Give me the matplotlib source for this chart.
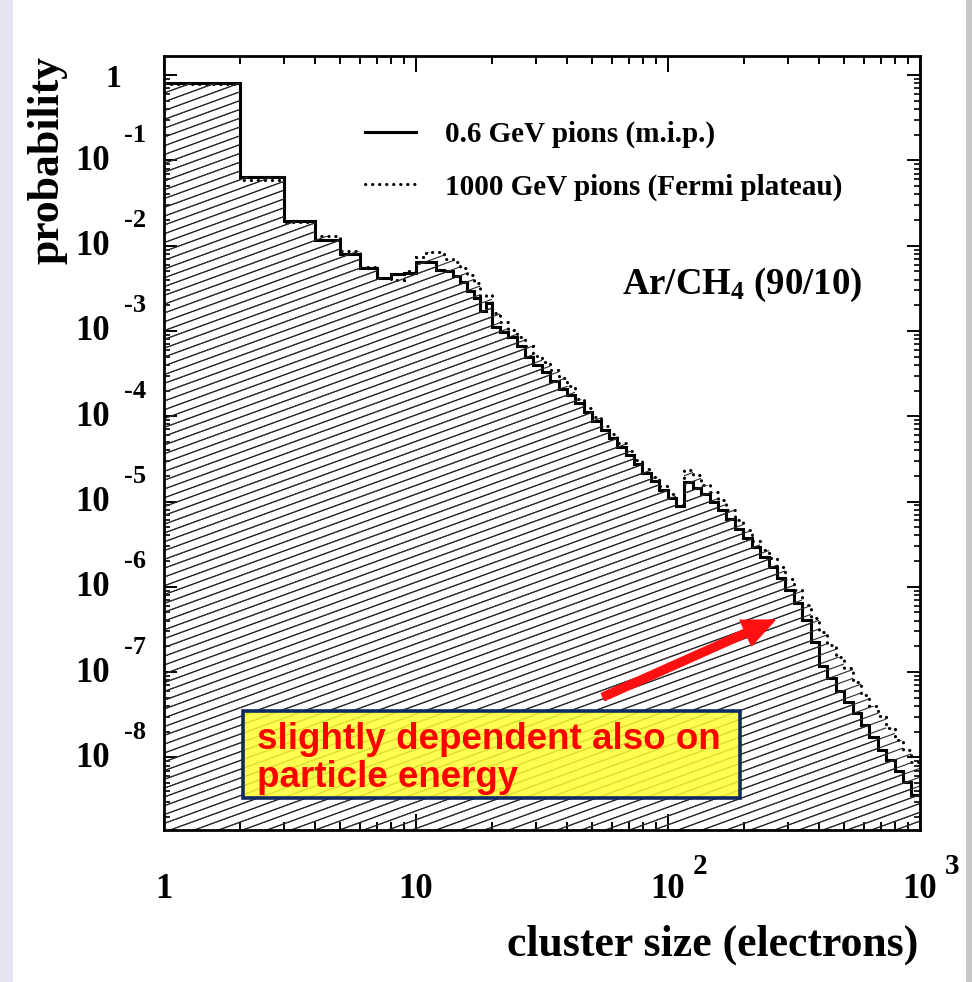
import numpy as np
import matplotlib
matplotlib.use("Agg")
import matplotlib.pyplot as plt
from matplotlib.ticker import LogLocator, NullFormatter
from matplotlib.collections import LineCollection
from matplotlib.patches import Rectangle, FancyArrow
from matplotlib.lines import Line2D
import matplotlib.transforms as mtrans

# ---------------- data ----------------
bin_edges = [1, 2, 3, 4, 5, 6, 7, 8, 9, 10, 11, 12, 13, 14, 15, 16, 17, 18, 19, 20,
             21.54, 23.26, 25.12, 27.12, 29.29, 31.62, 34.15, 36.88, 39.81, 42.99,
             46.42, 50.12, 54.12, 58.43, 63.10, 68.13, 73.56, 79.43, 85.77, 92.61,
             100.0, 107.98, 116.59, 125.89, 135.94, 146.78, 158.49, 171.13, 184.79, 199.53,
             215.44, 232.63, 251.19, 271.23, 292.86, 316.23, 341.45, 368.70, 398.11, 429.87,
             464.16, 501.19, 541.17, 584.34, 630.96, 681.29, 735.64, 794.33, 857.70, 926.12,
             1000.0]

prob_mip = [0.812, 0.0632, 0.0194, 0.01163, 0.00791, 0.00542, 0.00414, 0.00465, 0.00477,
            0.00648, 0.00640, 0.00518, 0.00510, 0.00440, 0.00374, 0.00294, 0.00243, 0.00171,
            0.00212, 0.00111,
            9.71e-4, 8.48e-4, 6.65e-4, 4.94e-4, 3.98e-4, 3.30e-4, 2.59e-4, 2.08e-4, 1.77e-4, 1.43e-4,
            1.12e-4, 8.78e-5, 6.89e-5, 5.55e-5, 4.35e-5, 3.51e-5, 2.75e-5, 2.16e-5, 1.74e-5, 1.36e-5,
            1.10e-5, 8.86e-6, 1.69e-5, 1.44e-5, 1.22e-5, 9.86e-6, 7.95e-6, 6.23e-6, 4.76e-6, 3.73e-6,
            2.93e-6, 2.24e-6, 1.71e-6, 1.27e-6, 9.17e-7, 6.46e-7, 4.08e-7, 2.25e-7, 1.18e-7, 8.53e-8,
            6.00e-8, 4.46e-8, 3.31e-8, 2.40e-8, 1.73e-8, 1.22e-8, 9.32e-9, 6.93e-9, 5.15e-9, 3.62e-9]

prob_fermi = [0.784, 0.0588, 0.0189, 0.01296, 0.00864, 0.00561, 0.00417, 0.00395, 0.00504,
              0.00735, 0.00841, 0.00841, 0.00697, 0.00642, 0.00546, 0.00452, 0.00364, 0.00256,
              0.00264, 0.00162,
              1.27e-3, 1.02e-3, 8.48e-4, 6.65e-4, 5.08e-4, 4.32e-4, 3.48e-4, 2.80e-4, 2.26e-4, 1.59e-4,
              1.25e-4, 9.78e-5, 7.68e-5, 6.18e-5, 4.85e-5, 3.91e-5, 3.07e-5, 2.40e-5, 1.94e-5, 1.52e-5,
              1.22e-5, 9.10e-6, 2.34e-5, 2.04e-5, 1.56e-5, 1.29e-5, 1.04e-5, 7.95e-6, 6.07e-6, 4.63e-6,
              3.44e-6, 2.70e-6, 2.18e-6, 1.71e-6, 1.23e-6, 9.17e-7, 6.12e-7, 4.31e-7, 2.95e-7, 2.08e-7,
              1.50e-7, 1.12e-7, 7.66e-8, 5.39e-8, 4.00e-8, 3.06e-8, 2.21e-8, 1.60e-8, 1.22e-8, 8.83e-9]

series_labels = ["0.6 GeV pions (m.i.p.)", "1000 GeV pions (Fermi plateau)"]
x_tick_values = [1, 10, 100, 1000]
x_tick_base = ["1", "10", "10", "10"]
x_tick_exp = ["", "", "2", "3"]
y_tick_exponents = [0, -1, -2, -3, -4, -5, -6, -7, -8]
x_title = "cluster size (electrons)"
y_title = "probability"
gas_label = "Ar/CH$_{4}$ (90/10)"
note_lines = ["slightly dependent also on", "particle energy"]

# ---------------- figure ----------------
plt.rcParams["mathtext.fontset"] = "custom"
plt.rcParams["mathtext.rm"] = "Liberation Serif:bold"
plt.rcParams["mathtext.default"] = "rm"

W, H, DPI = 972, 982, 100
fig = plt.figure(figsize=(W / DPI, H / DPI), dpi=DPI, facecolor="white")

def fx(x):
    return x / W

def fy(y):
    return 1 - y / H

# side decorations of the slide
fig.add_artist(Rectangle((0, 0), fx(13), 1, transform=fig.transFigure,
                         facecolor="#e6e6f3", edgecolor="none", zorder=-5))
fig.add_artist(Rectangle((fx(966), 0), fx(6), 1, transform=fig.transFigure,
                         facecolor="#c8c8c8", edgecolor="none", zorder=-5))

L, R, T, B = 163.7, 919.7, 56.0, 830.0
ax = fig.add_axes([fx(L), fy(B), fx(R) - fx(L), fy(T) - fy(B)])
ax.set_xscale("log")
ax.set_yscale("log")
ax.set_xlim(1, 1000)
ax.set_ylim(1.41e-9, 1.67)
ax.set_facecolor("none")

serif = "Liberation Serif"

# fill regions (invisible) used to clip the hatching
patch_fermi = ax.stairs(prob_fermi, bin_edges, baseline=1e-14, fill=True,
                        facecolor="none", edgecolor="none")
patch_mip = ax.stairs(prob_mip, bin_edges, baseline=1e-14, fill=True,
                      facecolor="none", edgecolor="none")

# 20-degree hatching drawn in axes coordinates
Wa, Ha = R - L, B - T
slope = np.tan(np.radians(20.0)) * Wa / Ha
spacing = 8.8 / Ha
cs = np.arange(-slope - spacing, 1 + spacing, spacing)
segs = [[(0, c), (1, c + slope)] for c in cs]
for p in (patch_mip, patch_fermi):
    lc = LineCollection(segs, colors="#2a2a2a", linewidths=0.8, transform=ax.transAxes)
    lc.set_clip_path(p)
    lc.set_clip_box(ax.bbox)
    ax.add_collection(lc, autolim=False)

dotted = ax.stairs(prob_fermi, bin_edges, baseline=None, color="black", linewidth=2.2,
                   linestyle=(0, (0.1, 2.2)), label=series_labels[1])
dotted.set_capstyle("round")
ax.stairs(prob_mip, bin_edges, baseline=None, color="black", linewidth=2.2,
          label=series_labels[0])

# axes styling
for s in ax.spines.values():
    s.set_linewidth(2.0)
ax.xaxis.set_major_locator(LogLocator(base=10, numticks=20))
ax.xaxis.set_minor_locator(LogLocator(base=10, subs=np.arange(2, 10), numticks=100))
ax.yaxis.set_major_locator(LogLocator(base=10, numticks=30))
ax.yaxis.set_minor_locator(LogLocator(base=10, subs=np.arange(2, 10), numticks=300))
for axis in (ax.xaxis, ax.yaxis):
    axis.set_major_formatter(NullFormatter())
    axis.set_minor_formatter(NullFormatter())
ax.tick_params(axis="x", which="major", direction="in", length=11.5, width=1.4, top=True, bottom=True)
ax.tick_params(axis="x", which="minor", direction="in", length=5.8, width=1.4, top=True, bottom=True)
ax.tick_params(axis="y", which="major", direction="in", length=9.5, width=1.4, left=True, right=True)
ax.tick_params(axis="y", which="minor", direction="in", length=4.5, width=1.2, left=True, right=True)

# tick labels (ROOT style with detached exponents)
ytr = mtrans.blended_transform_factory(fig.transFigure, ax.transData)
for e in y_tick_exponents:
    v = 10.0 ** e
    if e == 0:
        ax.text(fx(113), v, "1", transform=mtrans.offset_copy(ytr, fig=fig, y=-5, units="dots"),
                ha="center", va="center", fontsize=23, fontweight="bold", family=serif)
    else:
        ax.text(fx(93), v, "10", transform=mtrans.offset_copy(ytr, fig=fig, y=-1, units="dots"),
                ha="center", va="center", fontsize=25, fontweight="bold", family=serif)
        ax.text(fx(135), v, str(e), transform=mtrans.offset_copy(ytr, fig=fig, y=25, units="dots"),
                ha="center", va="center", fontsize=19, fontweight="bold", family=serif)

xtr = mtrans.blended_transform_factory(ax.transData, fig.transFigure)
for v, base, ex in zip(x_tick_values, x_tick_base, x_tick_exp):
    ax.text(v, fy(890), base, transform=xtr, ha="center", va="center",
            fontsize=25, fontweight="bold", family=serif)
    if ex:
        ax.text(v, fy(867), ex, transform=mtrans.offset_copy(xtr, fig=fig, x=32, units="dots"),
                ha="center", va="center", fontsize=21, fontweight="bold", family=serif)

# axis titles
fig.text(fx(918), fy(945), x_title, ha="right", va="center", fontsize=31.5,
         fontweight="bold", family=serif)
fig.text(fx(47), fy(56), y_title, ha="center", va="top", rotation=90, fontsize=31.5,
         fontweight="bold", family=serif)

# legend
leg_handles = [Line2D([], [], color="black", linewidth=2.2),
               Line2D([], [], color="black", linewidth=2.2, linestyle=(0, (0.1, 2.2)),
                      dash_capstyle="round")]
leg = ax.legend(leg_handles, series_labels, loc="upper left",
                bbox_to_anchor=(fx(365), fy(121)), bbox_transform=fig.transFigure,
                frameon=False, borderpad=0, borderaxespad=0, handlelength=1.75,
                handletextpad=1.0, labelspacing=0.86,
                prop={"family": serif, "weight": "bold", "size": 21})

# gas label
fig.text(fx(622), fy(285), gas_label, ha="left", va="center", fontsize=26.5,
         fontweight="bold", family=serif)

# annotation box
fig.add_artist(Rectangle((fx(243), fy(797.5)), fx(740) - fx(243), fy(710.5) - fy(797.5),
                         transform=fig.transFigure, facecolor=(1.0, 1.0, 0.2, 0.85),
                         edgecolor="#0e2a62", linewidth=2.6, zorder=3))
fig.text(fx(257), fy(749), note_lines[0], ha="left", va="baseline", fontsize=26.5,
         fontweight="bold", family="Liberation Sans", color="#ff0000", zorder=4)
fig.text(fx(257), fy(787), note_lines[1], ha="left", va="baseline", fontsize=26.5,
         fontweight="bold", family="Liberation Sans", color="#ff0000", zorder=4)

# red arrow (display pixels)
fig.add_artist(FancyArrow(603, H - 697, 775 - 603, -(620 - 697), width=8, head_width=28,
                          head_length=32, length_includes_head=True, color="#ff1010",
                          transform=mtrans.IdentityTransform(), zorder=4))

fig.savefig("out.png", dpi=DPI, facecolor=fig.get_facecolor())
